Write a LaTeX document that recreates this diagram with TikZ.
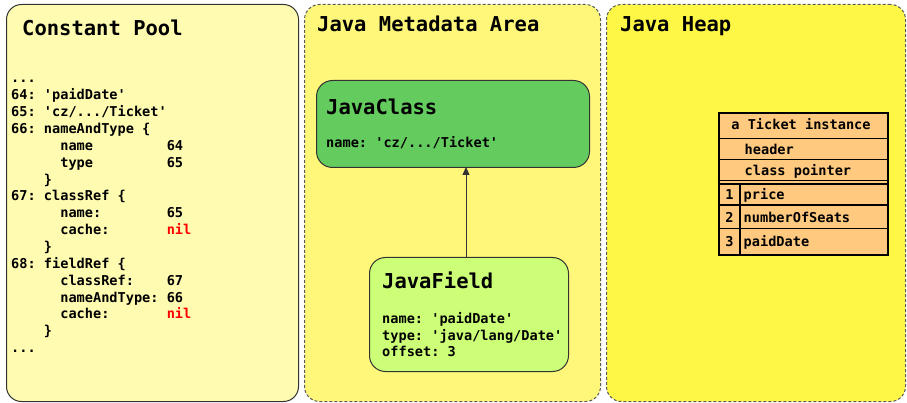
\documentclass[tikz,border=0pt]{standalone}
\usepackage{fontspec}
\setmonofont{DejaVu Sans Mono}
\usetikzlibrary{arrows.meta}
\definecolor{cpfill}{RGB}{255,252,178}
\definecolor{metafill}{RGB}{255,247,122}
\definecolor{heapfill}{RGB}{255,247,70}
\definecolor{classfill}{RGB}{100,204,94}
\definecolor{fieldfill}{RGB}{204,255,119}
\definecolor{tblfill}{RGB}{255,201,127}
\definecolor{bordercol}{RGB}{51,51,51}
\definecolor{dashcol}{RGB}{90,90,90}
\definecolor{nilred}{RGB}{255,0,0}
\begin{document}
\begin{tikzpicture}[x=1pt,y=-1pt,
  body/.style={font=\ttfamily\bfseries\fontsize{13.6}{17}\selectfont, inner sep=0pt, anchor=base west},
  ttl/.style={font=\ttfamily\bfseries\fontsize{20.5}{24}\selectfont, inner sep=0pt, anchor=base west},
  panel/.style={rounded corners=15pt, line width=1pt, anchor=north west, inner sep=0pt},
  dpanel/.style={panel, draw=dashcol, dash pattern=on 3pt off 2pt},
  objbox/.style={rounded corners=16pt, draw=bordercol, line width=1pt, anchor=north west, inner sep=0pt},
  tline/.style={line width=1.5pt}
]
\useasboundingbox (0,0) rectangle (907,403);

% panels
\node[panel, draw=bordercol, fill=cpfill, minimum width=292pt, minimum height=397pt] (cp) at (6,4) {};
\node[dpanel, fill=metafill, minimum width=296pt, minimum height=397pt] (meta) at (304,4) {};
\node[dpanel, fill=heapfill, minimum width=299pt, minimum height=397pt] (heap) at (606,4) {};

\node[ttl] (cptitle) at (22,35.5) {Constant Pool};
\node[ttl] (metatitle) at (317,31.5) {Java Metadata Area};
\node[ttl] (heaptitle) at (620,31.5) {Java Heap};

% constant pool lines
\newcommand\cpline[3]{\node[body] (#1) at (11,#2) {#3};}
\cpline{l0}{83}{...}
\cpline{l1}{99.85}{64: 'paidDate'}
\cpline{l2}{116.7}{65: 'cz/.../Ticket'}
\cpline{l3}{133.55}{66: nameAndType \{}
\cpline{l4}{150.4}{~~~~~~name~~~~~~~~~64}
\cpline{l5}{167.25}{~~~~~~type~~~~~~~~~65}
\cpline{l6}{184.1}{~~~~\}}
\cpline{l7}{200.95}{67: classRef \{}
\cpline{l8}{217.8}{~~~~~~name:~~~~~~~~65}
\cpline{l9}{234.65}{~~~~~~cache:~~~~~~~\textcolor{nilred}{nil}}
\cpline{l10}{251.5}{~~~~\}}
\cpline{l11}{268.35}{68: fieldRef \{}
\cpline{l12}{285.2}{~~~~~~classRef:~~~~67}
\cpline{l13}{302.05}{~~~~~~nameAndType:~66}
\cpline{l14}{318.9}{~~~~~~cache:~~~~~~~\textcolor{nilred}{nil}}
\cpline{l15}{335.75}{~~~~\}}
\cpline{l16}{352.6}{...}

% JavaClass
\node[objbox, fill=classfill, minimum width=273pt, minimum height=87pt] (jc) at (316,80) {};
\node[ttl] (jctitle) at (326,115) {JavaClass};
\node[body] (jcname) at (326,148) {name: 'cz/.../Ticket'};

% JavaField
\node[objbox, fill=fieldfill, minimum width=199pt, minimum height=114pt] (jf) at (369,257) {};
\node[ttl] (jftitle) at (382,288) {JavaField};
\node[body] (jf1) at (382,323.3) {name: 'paidDate'};
\node[body] (jf2) at (382,340) {type: 'java/lang/Date'};
\node[body] (jf3) at (382,356.7) {offset: 3};

\coordinate (arrS) at (466,257);
\coordinate (arrE) at (466,167);
\draw[line width=1pt, bordercol, -{Triangle[length=8pt,width=7pt]}] (arrS) -- (arrE);

% heap table
\node[draw=black, line width=2pt, fill=tblfill, anchor=north west, inner sep=0pt, minimum width=169pt, minimum height=142pt] (tbl) at (717.5,112) {};
\draw[tline] (717.5,138.3) -- (886.5,138.3);
\draw[tline] (717.5,159.3) -- (886.5,159.3);
\draw[tline] (717.5,180.7) -- (886.5,180.7);
\draw[tline] (717.5,184) -- (886.5,184);
\draw[tline] (717.5,205) -- (886.5,205);
\draw[tline] (717.5,228.3) -- (886.5,228.3);
\draw[tline] (740,184) -- (740,254);
\node[body, anchor=base] (tt) at (801,130) {a Ticket instance};
\node[body] (th) at (744.5,155) {header};
\node[body] (tc) at (744.5,176) {class pointer};
\node[body, anchor=base] (n1) at (729.5,199.3) {1};
\node[body] (f1) at (743.5,199.3) {price};
\node[body, anchor=base] (n2) at (729.5,222.7) {2};
\node[body] (f2) at (743.5,222.7) {numberOfSeats};
\node[body, anchor=base] (n3) at (729.5,246.7) {3};
\node[body] (f3) at (743.5,246.7) {paidDate};
\end{tikzpicture}
\end{document}
